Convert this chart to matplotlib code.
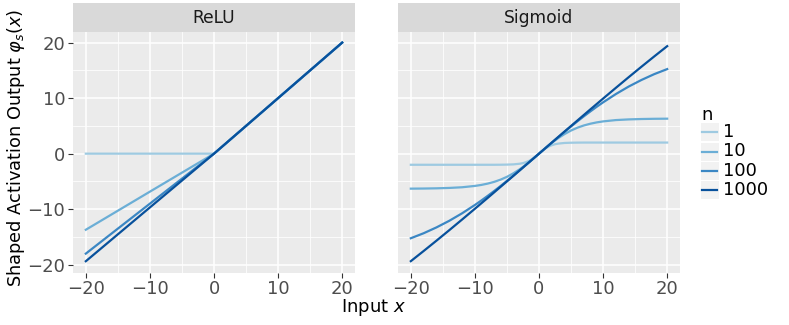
import matplotlib.pyplot as plt
from matplotlib.patches import Rectangle

# values
n_values = ['1', '10', '100', '1000']
colors = ['#9ecae1', '#6baed6', '#3b87c4', '#08519c']

relu_x = [-20, -10, 0, 10, 20]
relu_y = {
    '1': [0.0, 0.0, 0.0, 10.0, 20.0],
    '10': [-13.7, -6.84, 0.0, 10.0, 20.0],
    '100': [-18.0, -9.0, 0.0, 10.0, 20.0],
    '1000': [-19.37, -9.68, 0.0, 10.0, 20.0],
}

sig_x_pos = [0.5, 1, 1.5, 2, 2.5, 3, 4, 5, 6, 7, 8, 9, 10, 12, 14, 16, 18, 20]
sig_pos = {
    '1': [0.49, 0.92, 1.27, 1.52, 1.70, 1.81, 1.93, 1.97, 1.99, 2.0, 2.0,
          2.0, 2.0, 2.0, 2.0, 2.0, 2.0, 2.0],
    '10': [0.50, 0.99, 1.47, 1.94, 2.38, 2.80, 3.54, 4.17, 4.68, 5.08, 5.39,
           5.63, 5.81, 6.05, 6.17, 6.24, 6.28, 6.30],
    '100': [0.50, 1.00, 1.50, 1.99, 2.49, 2.98, 3.95, 4.90, 5.83, 6.73, 7.60,
            8.44, 9.24, 10.74, 12.09, 13.28, 14.33, 15.23],
    '1000': [0.5, 1.0, 1.5, 2.0, 2.5, 3.0, 4.0, 4.99, 5.98, 6.97, 7.96,
             8.94, 9.92, 11.86, 13.78, 15.67, 17.53, 19.36],
}
# curves are odd-symmetric around the origin
sig_x = [-v for v in reversed(sig_x_pos)] + [0] + sig_x_pos
sig_y = {k: [-v for v in reversed(p)] + [0.0] + p for k, p in sig_pos.items()}

W, H = 789, 325
fig = plt.figure(figsize=(W / 100, H / 100), dpi=100)

panel_bg = '#ebebeb'
strip_bg = '#d9d9d9'
tick_col = '#4d4d4d'


def px(x0, y0, x1, y1):
    return [x0 / W, 1 - y1 / H, (x1 - x0) / W, (y1 - y0) / H]


def make_panel(left, right, title, show_y):
    ax = fig.add_axes(px(left, 31.5, right, 272.5))
    ax.set_facecolor(panel_bg)
    for s in ax.spines.values():
        s.set_visible(False)
    ax.set_xlim(-22, 22)
    ax.set_ylim(-21.4, 22)
    ax.set_xticks([-20, -10, 0, 10, 20])
    ax.set_yticks([-20, -10, 0, 10, 20])
    ax.set_xticks([-15, -5, 5, 15], minor=True)
    ax.set_yticks([-15, -5, 5, 15], minor=True)
    ax.set_xticklabels(['\u221220', '\u221210', '0', '10', '20'])
    if show_y:
        ax.set_yticklabels(['\u221220', '\u221210', '0', '10', '20'])
    else:
        ax.set_yticklabels([])
    ax.grid(which='major', color='white', linewidth=1.1)
    ax.grid(which='minor', color='white', linewidth=0.55)
    ax.set_axisbelow(True)
    ax.tick_params(which='major', length=3.5, width=0.8, color='#333333',
                   labelcolor=tick_col, labelsize=13, pad=2)
    ax.tick_params(which='minor', length=0)
    if not show_y:
        ax.tick_params(axis='y', which='major', length=0)

    sax = fig.add_axes(px(left, 3, right, 31.5))
    sax.set_facecolor(strip_bg)
    sax.set_xticks([])
    sax.set_yticks([])
    for s in sax.spines.values():
        s.set_visible(False)
    sax.text(0.5, 0.47, title, ha='center', va='center', fontsize=12.3,
             color='#1a1a1a', transform=sax.transAxes)
    return ax


ax1 = make_panel(73, 355, 'ReLU', True)
ax2 = make_panel(398, 680, 'Sigmoid', False)

for n, c in zip(n_values, colors):
    ax1.plot(relu_x, relu_y[n], color=c, linewidth=1.6)
    ax2.plot(sig_x, sig_y[n], color=c, linewidth=1.6)

# overlay axes in pixel units for the axis titles and the legend
ov = fig.add_axes([0, 0, 1, 1])
ov.set_xlim(0, W)
ov.set_ylim(H, 0)
ov.axis('off')
ov.text(16, 148, 'Shaped Activation Output $\\varphi_s(x)$', ha='center',
        va='center', rotation=90, fontsize=12.8)
ov.text(374, 307, 'Input $x$', ha='center', va='center', fontsize=13)

ov.text(701, 115, 'n', ha='left', va='center', fontsize=13)
row_y = [132, 151.5, 170.5, 190]
for n, c, y in zip(n_values, colors, row_y):
    ov.add_patch(Rectangle((701, y - 9), 18, 18, facecolor='#f2f2f2',
                           edgecolor='none'))
    ov.plot([702.5, 717.5], [y, y], color=c, linewidth=1.6)
    ov.text(723, y, n, ha='left', va='center', fontsize=13)

fig.savefig('out.png', dpi=100)
